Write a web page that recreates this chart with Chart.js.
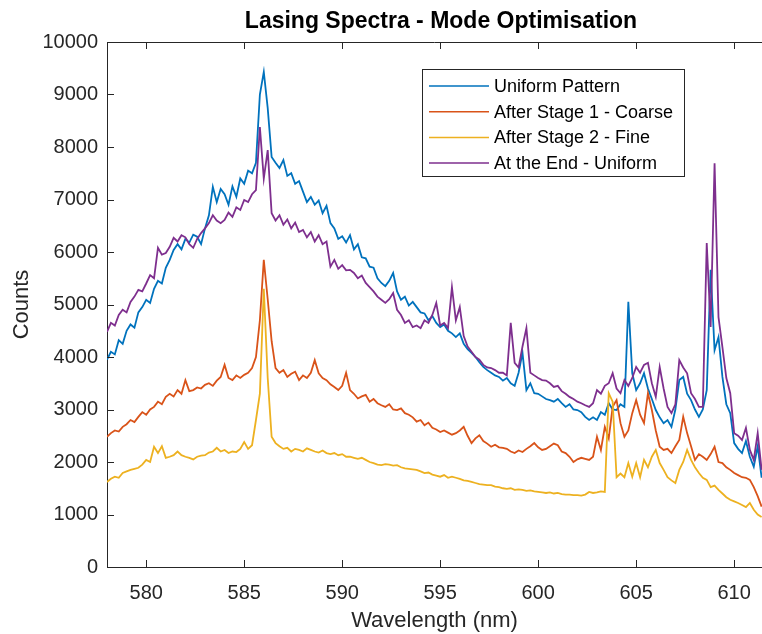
<!DOCTYPE html>
<html>
<head>
<meta charset="utf-8">
<script src="https://cdn.jsdelivr.net/npm/chart.js@4"></script>
<style>
  html, body { margin: 0; padding: 0; background: #fff; }
  canvas { display: block; }
</style>
</head>
<body>
<canvas id="spectra" width="762" height="634"></canvas>
<script>
// spectrometer grid: 578.0 .. 611.4 nm, 0.2 nm steps
const wavelength = Array.from({ length: 168 }, (_, i) => +(578 + i * 0.2).toFixed(1));

const seriesNames = ['Uniform Pattern', 'After Stage 1 - Coarse', 'After Stage 2 - Fine', 'At the End - Uniform'];

const uniformPattern = [
  3950, 4100, 4050, 4320, 4250, 4500, 4620, 4560, 4850, 4950,
  5090, 5030, 5300, 5450, 5400, 5700, 5850, 6040, 6150, 6050,
  6250, 6180, 6330, 6290, 6150, 6450, 6700, 7240, 6950, 7200,
  7100, 6900, 7250, 7050, 7400, 7300, 7550, 7500, 7700, 9000,
  9430, 8740, 7810, 7700, 7600, 7750, 7450, 7500, 7300, 7350,
  7150, 6950, 7050, 6900, 6980, 6740, 6880, 6550, 6450, 6250,
  6300, 6180, 6320, 6050, 6150, 5900, 5880, 5720, 5700, 5500,
  5410, 5350, 5450, 5600, 5250, 5090, 5150, 4980, 5050, 4950,
  4850, 4830, 4700, 4780, 4650, 4570, 4620, 4500, 4450, 4380,
  4450, 4250, 4150, 4080, 4000, 3900, 3810, 3750, 3700, 3650,
  3620, 3550, 3600, 3500, 3450, 3700, 4080, 3370, 3500, 3310,
  3300, 3250, 3200, 3180, 3150, 3200, 3120, 3050, 3100, 3000,
  2990, 2950, 2860, 2800, 2850, 2800, 2950, 2900, 3120, 3000,
  2990, 3100, 3050, 5050, 3690, 3370, 3500, 3690, 3400, 3200,
  2990, 2850, 2740, 2800, 2670, 3000, 3560, 3620, 3300, 3180,
  3000, 2860, 3000, 3370, 5660, 4130, 4380, 3620, 3100, 2930,
  2360, 2250, 2170, 2400, 2100, 1910, 2300, 1700
];

const stage1Coarse = [
  2480, 2550, 2600, 2580, 2670, 2720, 2800, 2760, 2860, 2950,
  2900, 3000, 3050, 3150, 3100, 3240, 3300, 3250, 3370, 3300,
  3560, 3350, 3370, 3420, 3400, 3470, 3500, 3450, 3550, 3620,
  3850, 3600, 3560, 3650, 3600, 3660, 3700, 3790, 4000, 4700,
  5850, 5100, 4300, 3790, 3700, 3750, 3620, 3680, 3720, 3560,
  3650, 3600, 3700, 3940, 3690, 3600, 3560, 3480, 3430, 3370,
  3450, 3700, 3370, 3300, 3210, 3250, 3280, 3150, 3200, 3120,
  3080, 3050, 3100, 3000, 2990, 3020, 2930, 2900, 2850, 2770,
  2800, 2700, 2750, 2650, 2620, 2570, 2600, 2560, 2520, 2550,
  2600, 2670, 2500, 2360, 2450, 2510, 2400, 2350, 2290, 2330,
  2280, 2270, 2250, 2200, 2170, 2220, 2190, 2250, 2300, 2360,
  2280, 2230, 2250, 2300, 2350, 2320, 2200, 2170, 2100, 2000,
  2050, 2080, 2060, 2040, 2100, 2480, 2230, 2670, 2450, 3050,
  3180, 2740, 2480, 2600, 2930, 3180, 2900, 2740, 3310, 2990,
  2600, 2290, 2230, 2250, 2170, 2300, 2420, 2860, 2550, 2300,
  2040, 2150, 2100, 2040, 2150, 2290, 2000, 1980, 1900, 1850,
  1790, 1750, 1710, 1700, 1660, 1520, 1350, 1150
];

const stage2Fine = [
  1620, 1680, 1720, 1700, 1790, 1820, 1850, 1870, 1890, 1950,
  2040, 2000, 2290, 2170, 2300, 2080, 2100, 2130, 2200, 2130,
  2100, 2080, 2050, 2100, 2120, 2130, 2180, 2200, 2270, 2200,
  2230, 2170, 2200, 2190, 2250, 2380, 2250, 2320, 2800, 3300,
  5300, 3600, 2480, 2360, 2300, 2250, 2270, 2200, 2250, 2230,
  2200, 2260, 2230, 2200, 2180, 2220, 2170, 2150, 2170, 2130,
  2150, 2100, 2100, 2080, 2060, 2080, 2040, 2000, 1980, 1950,
  1940, 1960, 1950, 1930, 1940, 1900, 1880, 1870, 1860, 1850,
  1820, 1790, 1800, 1760, 1740, 1720, 1750, 1700, 1720, 1700,
  1680, 1650, 1640, 1620, 1600, 1580, 1570, 1560, 1560, 1530,
  1520, 1500, 1490, 1500, 1470, 1480, 1470, 1450, 1460, 1440,
  1430, 1420, 1410, 1420, 1400, 1410, 1390, 1380, 1380, 1370,
  1370, 1360, 1380, 1430, 1410, 1420, 1440, 1430, 3310, 3150,
  1710, 1780, 1710, 1980, 1720, 1980, 1710, 2040, 1900, 2100,
  2230, 1980, 1850, 1710, 1650, 1600, 1850, 2000, 2230, 2040,
  1900, 1790, 1700, 1660, 1520, 1550, 1470, 1400, 1330, 1280,
  1250, 1220, 1180, 1140, 1220, 1090, 1000, 950
];

const endUniform = [
  4480, 4650, 4600, 4800, 4900, 4850, 5050, 5150, 5280, 5250,
  5400, 5560, 5500, 6080, 5950, 5980, 6100, 6270, 6200, 6320,
  6280, 6150, 6080, 6250, 6360, 6450, 6550, 6700, 6600, 6550,
  6610, 6750, 6670, 6850, 6800, 6990, 6950, 7100, 7180, 8380,
  7400, 7940, 6740, 6600, 6700, 6520, 6620, 6450, 6560, 6380,
  6420, 6280, 6380, 6200, 6320, 6150, 6200, 5720, 5850, 5680,
  5750, 5650, 5660, 5600, 5500, 5550, 5410, 5330, 5250, 5150,
  5090, 5030, 5100, 5220, 4900, 4800, 4650, 4700, 4570, 4600,
  4550, 4700, 4650, 4800, 5030, 4600, 4650, 4550, 5330, 4700,
  4950, 4400, 4200, 4100, 4000, 3950, 3850, 3800, 3790, 3750,
  3700, 3700, 3650, 4650, 3890, 3800, 4200, 4550, 3700, 3650,
  3600, 3560, 3550, 3500, 3430, 3450, 3350, 3300, 3240, 3200,
  3150, 3120, 3080, 3050, 3120, 3370, 3300, 3450, 3500, 3690,
  3400, 3310, 3560, 3450, 3600, 3810, 3700, 3850, 3890, 3500,
  3240, 3810, 3400, 3050, 2930, 3100, 3940, 3800, 3690, 3310,
  3200, 3050, 3050, 6170, 4570, 7690, 4760, 4190, 3600, 3310,
  2550, 2500, 2420, 2650, 2230, 2040, 2550, 1850
];

const xTickValues = [580, 585, 590, 595, 600, 605, 610];
const yTickValues = [0, 1000, 2000, 3000, 4000, 5000, 6000, 7000, 8000, 9000, 10000];

const colors = ['#0072BD', '#D95319', '#EDB120', '#7E2F8E'];
const axisColor = '#262626';
const fontFamily = '"Liberation Sans", Arial, Helvetica, sans-serif';

function toPoints(values) {
    return wavelength.map((w, i) => ({ x: w, y: values[i] }));
}

// MATLAB-like box: top edge, inward ticks, title and legend
const matlabAxes = {
    id: 'matlabAxes',
    afterDraw(chart) {
        const { ctx, chartArea: a, scales } = chart;
        const tick = 7;
        ctx.save();
        ctx.strokeStyle = axisColor;
        ctx.lineWidth = 1;
        ctx.beginPath();
        ctx.moveTo(a.left, a.top + 0.5);
        ctx.lineTo(a.right, a.top + 0.5);
        xTickValues.forEach(v => {
            const px = Math.round(scales.x.getPixelForValue(v)) + 0.5;
            ctx.moveTo(px, a.bottom);
            ctx.lineTo(px, a.bottom - tick);
            ctx.moveTo(px, a.top);
            ctx.lineTo(px, a.top + tick);
        });
        yTickValues.forEach(v => {
            const py = Math.round(scales.y.getPixelForValue(v)) + 0.5;
            ctx.moveTo(a.left, py);
            ctx.lineTo(a.left + tick, py);
        });
        ctx.stroke();

        // title
        ctx.fillStyle = '#000';
        ctx.font = 'bold 23px ' + fontFamily;
        ctx.textAlign = 'center';
        ctx.textBaseline = 'middle';
        ctx.fillText('Lasing Spectra - Mode Optimisation', 441, 22);

        // legend
        const box = { left: 422, top: 69, width: 262, height: 107 };
        ctx.fillStyle = '#fff';
        ctx.fillRect(box.left, box.top, box.width, box.height);
        ctx.strokeStyle = axisColor;
        ctx.strokeRect(box.left + 0.5, box.top + 0.5, box.width, box.height);
        ctx.font = '18px ' + fontFamily;
        ctx.textAlign = 'left';
        chart.data.datasets.forEach((ds, i) => {
            const ry = box.top + 17 + i * 25.7;
            ctx.strokeStyle = ds.borderColor;
            ctx.lineWidth = 1.5;
            ctx.beginPath();
            ctx.moveTo(box.left + 7, ry);
            ctx.lineTo(box.left + 67, ry);
            ctx.stroke();
            ctx.fillStyle = '#000';
            ctx.fillText(ds.label, box.left + 72, ry + 1);
        });
        ctx.restore();
    }
};

const allSeries = [uniformPattern, stage1Coarse, stage2Fine, endUniform];

new Chart(document.getElementById('spectra'), {
    type: 'line',
    data: {
        datasets: allSeries.map((values, i) => ({
            label: seriesNames[i],
            data: toPoints(values),
            borderColor: colors[i],
            backgroundColor: colors[i],
            borderWidth: 1.8,
            pointRadius: 0,
            tension: 0,
            fill: false,
            order: 4 - i
        }))
    },
    options: {
        responsive: false,
        animation: false,
        layout: { padding: { top: 42, left: 0, right: 0, bottom: 0 } },
        plugins: {
            legend: { display: false },
            title: { display: false },
            tooltip: { enabled: false }
        },
        scales: {
            x: {
                type: 'linear',
                min: 578,
                max: 611.42,
                grid: { display: true, drawOnChartArea: false, drawTicks: false },
                border: { display: true, color: axisColor, width: 1 },
                ticks: {
                    stepSize: 5,
                    includeBounds: false,
                    padding: 14,
                    color: axisColor,
                    font: { family: fontFamily, size: 20 },
                    maxRotation: 0,
                    callback: v => String(v)
                },
                title: {
                    display: true,
                    text: 'Wavelength (nm)',
                    color: axisColor,
                    font: { family: fontFamily, size: 22 },
                    padding: { top: 0, bottom: 0 }
                },
                afterFit(scale) {
                    scale.height = 67;
                    scale.paddingRight = 0;
                }
            },
            y: {
                min: 0,
                max: 10000,
                grid: { display: true, drawOnChartArea: false, drawTicks: false },
                border: { display: true, color: axisColor, width: 1 },
                ticks: {
                    stepSize: 1000,
                    padding: 9,
                    color: axisColor,
                    font: { family: fontFamily, size: 20 },
                    callback: v => String(v)
                },
                title: {
                    display: true,
                    text: 'Counts',
                    color: axisColor,
                    font: { family: fontFamily, size: 22 },
                    padding: { top: 9, bottom: 0 }
                },
                afterFit(scale) { scale.width = 107; }
            }
        }
    },
    plugins: [matlabAxes]
});
</script>
</body>
</html>
